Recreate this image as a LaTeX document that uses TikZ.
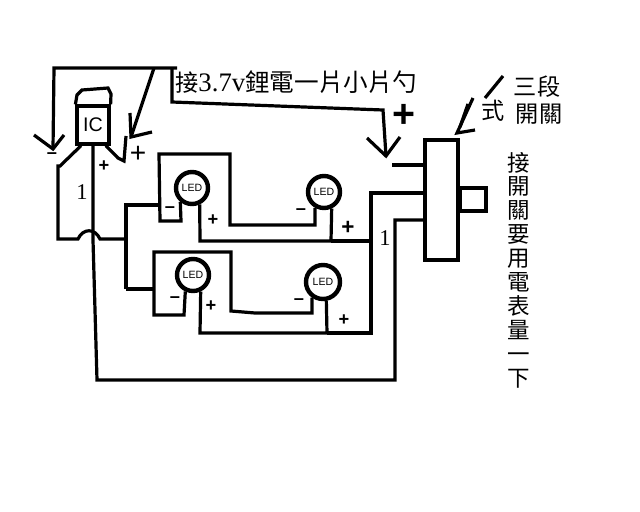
\documentclass[tikz,border=0pt]{standalone}
\usepackage{fontspec}
\setmainfont{Liberation Serif}
\newfontfamily\cjk{Noto Sans CJK TC}
\newfontfamily\signfont{Liberation Sans}
\tikzset{
  wire/.style={line width=0.08cm},
  ledbulb/.style={draw,circle,line width=0.11cm,inner sep=0pt,minimum size=0.8cm,font=\fontsize{7.5}{8}\signfont},
  signnode/.style={inner sep=0pt,font=\fontsize{13}{13}\signfont\bfseries},
  numnode/.style={inner sep=0pt,font=\fontsize{16}{16}\selectfont},
  cjknode/.style={inner sep=0pt,font=\fontsize{16.5}{18}\cjk}
}
\begin{document}
\begin{tikzpicture}[x=0.025cm,y=-0.025cm]
\useasboundingbox (0,0) rectangle (640,512);

% Drawing parts
\node [ledbulb] (ledone) at (192,188) {LED};
\node [ledbulb] (ledtwo) at (324,192) {LED};
\node [ledbulb] (ledthree) at (193,275) {LED};
\node [ledbulb,minimum size=0.85cm] (ledfour) at (323,282) {LED};
\node [draw,wire,minimum width=0.8cm,minimum height=0.95cm,inner sep=0pt,font=\fontsize{14}{14}\signfont] (chip) at (93,125) {IC};
\node [draw,wire,minimum width=0.82cm,minimum height=3cm,inner sep=0pt] (switch) at (441.5,200) {};
\node [draw,wire,minimum width=0.65cm,minimum height=0.575cm,inner sep=0pt] (knob) at (473,199.5) {};

% Wire ends that stop in the air
\coordinate (arrowa) at (53,149);
\coordinate (arrowb) at (131,137);
\coordinate (arrowc) at (386,156);
\coordinate (arrowd) at (457,133);
\coordinate (swa) at (425,165);
\coordinate (swb) at (425,193);
\coordinate (swc) at (425,220);

% Drawing cap of chip
\draw [wire] (chip.north west) -- (77,95) -- (82,90) -- (108,88) -- (111,94) -- (chip.north east);%

% Drawing wire from left arrow
\draw [wire] (arrowa) -- (54,68) -- (177,68);%
\draw [wire] (34,135) -- (arrowa) -- (64,135);%

% Drawing arrow to right leg
\draw [wire] (154,68) -- (arrowb);%
\draw [wire] (130,113) -- (arrowb) -- (152,132);%

% Drawing wire to battery label
\draw [wire] (172,68) -- (172,102) -- (383,110) -- (arrowc);%
\draw [wire] (367,138) -- (arrowc) -- (400,137);%
\draw [wire] (392,165) -- (swa);%

% Drawing legs of chip
\draw [wire] (chip.-120) -- (60,166) -- (58,166) -- (58,239) -- (78,239) .. controls (83,228) and (95,228) .. (100,239) -- (126,239);%
\draw [wire] (chip.-58) -- (118,158) -- (124,161) -- (126,136);%
\draw [wire] (chip.south) -- (93,240) -- (97,380) -- (395,380) -- (395,220) -- (swc);%

% Drawing first pair
\draw [wire] (126,289) -- (126,205) -- (160,205);%
\draw [wire] (ledone.-130) -- (181,221) -- (160,221) -- (159,154) -- (230,154) -- (230,225) -- (315,225) -- (ledtwo.-120);%
\draw [wire] (ledone.-65) -- (200,241) -- (331,241) -- (ledtwo.-65);%
\draw [wire] (331,241) -- (370,241);%

% Drawing second pair
\draw [wire] (126,289) -- (154,289);%
\draw [wire] (ledthree.-115) -- (184,315) -- (154,315) -- (154,252) -- (231,252) -- (231,311) -- (255,313) -- (312,313) -- (ledfour.-125);%
\draw [wire] (ledthree.-65) -- (200,333) -- (327,333) -- (ledfour.-80);%
\draw [wire] (327,333) -- (371,333) -- (371,193) -- (swb);%

% Drawing arrow to switch
\draw [wire] (503,76) -- (485,98);%
\draw [wire] (473,98) -- (arrowd) -- (475,130);%
\draw [wire] (468,104) -- (460,127);%

% Marking signs
\node [signnode] (signa) at (52,156) {–};
\node [signnode] (signb) at (104,166) {+};
\node [signnode,font=\fontsize{20}{20}\signfont] (signc) at (138,154) {+};
\node [signnode] (signd) at (170,210) {–};
\node [signnode] (signe) at (213,220) {+};
\node [signnode] (signf) at (301,212) {–};
\node [signnode,font=\fontsize{16}{16}\signfont\bfseries] (signg) at (348,228) {+};
\node [signnode] (signh) at (175,300) {–};
\node [signnode] (signi) at (211,306) {+};
\node [signnode] (signj) at (299,302) {–};
\node [signnode] (signk) at (344,320) {+};
\node [signnode,font=\fontsize{28}{28}\signfont\bfseries] (signl) at (404,116) {+};
\node [numnode] (numa) at (82,192) {1};
\node [numnode] (numb) at (385,238) {1};

% Marking texts
\node [cjknode,anchor=west] (battery) at (175,82) {接\fontsize{19}{19}\selectfont\rmfamily 3.7v\cjk\fontsize{17.5}{18}\selectfont 鋰電一片小片勺};
\node [cjknode] (typea) at (537,87) {三段};
\node [cjknode] (typeb) at (539,114) {開關};
\node [cjknode] (typec) at (493,111) {式};
\node [cjknode,align=center,font=\fontsize{16}{17}\cjk] (note) at (519,270) {接\\開\\關\\要\\用\\電\\表\\量\\一\\下};
\end{tikzpicture}
\end{document}
